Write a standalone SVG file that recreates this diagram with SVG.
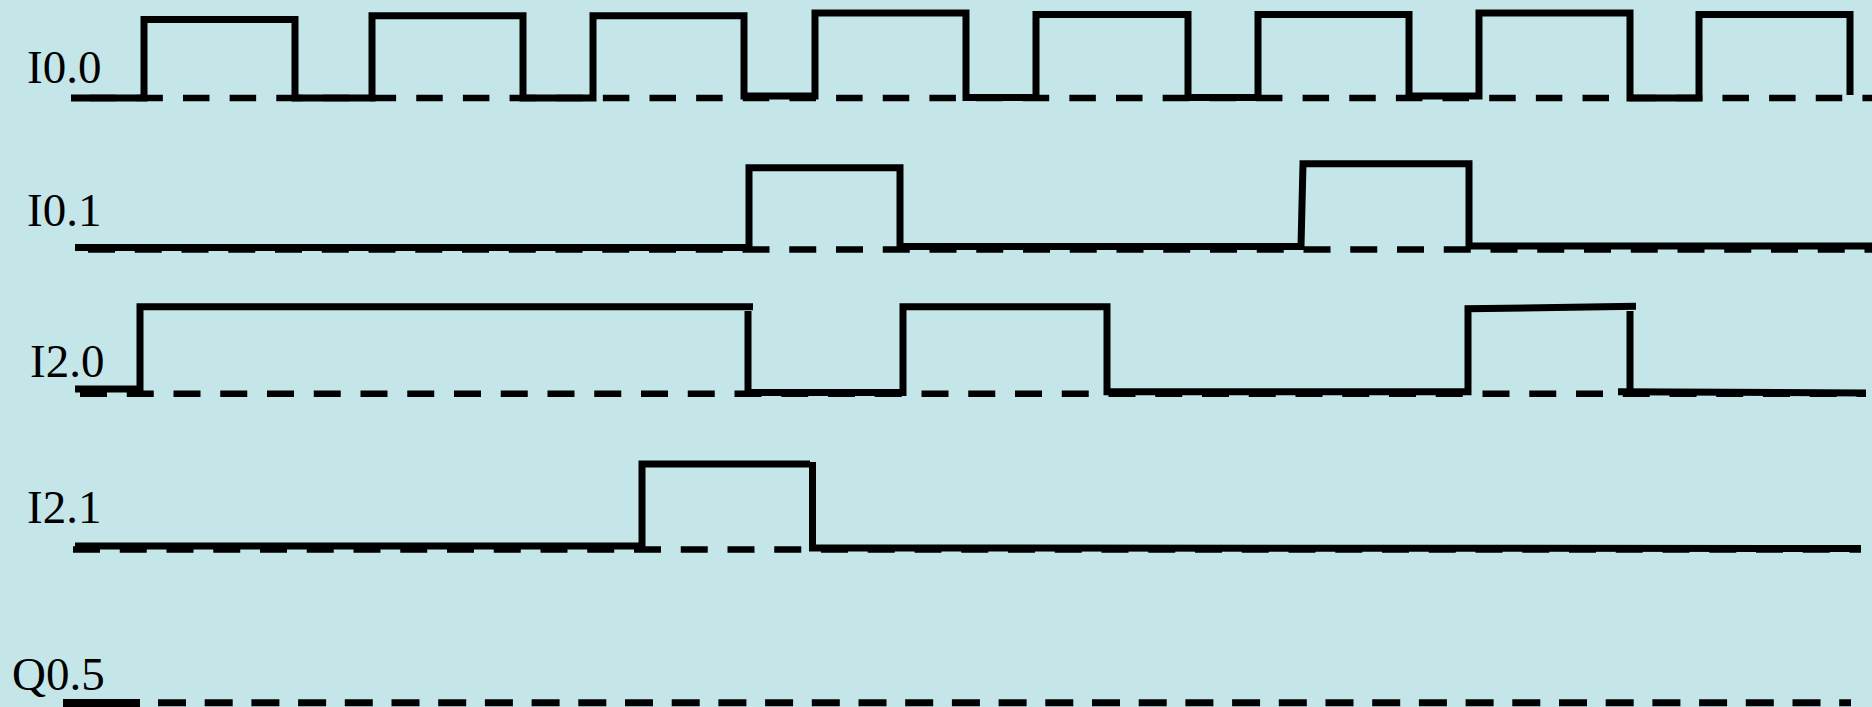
<svg xmlns="http://www.w3.org/2000/svg" width="1872" height="707" viewBox="0 0 1872 707">
<style>
.bg{fill:#C5E6E8}
.lbl{font-family:"Liberation Serif","Times New Roman",serif;font-size:47px;fill:#000}
.wave{fill:none;stroke:#000;stroke-width:7;stroke-linejoin:miter;stroke-linecap:butt}
.dash{fill:none;stroke:#000;stroke-width:6.5;stroke-dasharray:27 19.75}
</style>
<rect class="bg" x="0" y="0" width="1872" height="707"/>
<g id="I0.0">
<text class="lbl" x="27" y="83">I0.0</text>
<line class="dash" x1="89.7" y1="98" x2="1872" y2="98" style="stroke-dasharray:26.5 20.15"/>
<polyline class="wave" points="71,98 144,98 144,19.5 295,19.5 295,98 372,98 372,15.7 523,15.7 523,98 593,98 593,15.7 744,15.7 744,96 815,96 815,13 966,13 966,97.5 1036,97.5 1036,14.5 1188,14.5 1188,97.5 1258,97.5 1258,14.5 1409,14.5 1409,96 1479,96 1479,13 1630,13 1630,98 1699,98 1699,14.5 1850,14.5 1850,95"/>
</g>
<g id="I0.1">
<text class="lbl" x="27" y="226">I0.1</text>
<line class="dash" x1="88" y1="249.5" x2="1872" y2="249.5"/>
<polyline class="wave" points="75,247.5 749,247.5 749,167.8 900,167.8 900,246.5 1301,246.5 1303,163.7 1469,163.7 1469,246 1872,246"/>
</g>
<g id="I2.0">
<text class="lbl" x="30" y="377">I2.0</text>
<line class="dash" x1="80" y1="393.7" x2="1866" y2="393.7"/>
<polyline class="wave" points="75,389 140,389 140,306.7 753,306.7"/>
<polyline class="wave" points="748,311 748,392.5 903,392.5 903,306.7 1107,306.7 1107,391.7 1468,391.7 1468,308.8 1636,306.2"/>
<polyline class="wave" points="1630,311 1630,391.7"/>
<polyline class="wave" points="1618,391.7 1866,393"/>
</g>
<g id="I2.1">
<text class="lbl" x="27" y="523">I2.1</text>
<line class="dash" x1="73" y1="549.5" x2="1861" y2="549.5"/>
<polyline class="wave" points="75,546 642,546 642,464 810,464"/>
<polyline class="wave" points="812.5,462 812.5,548 1861,548.5"/>
</g>
<g id="Q0.5">
<text class="lbl" x="12" y="690">Q0.5</text>
<rect x="63" y="699" width="77" height="8" fill="#000"/>
<line class="dash" x1="158" y1="702.7" x2="1851" y2="702.7" style="stroke-width:7;stroke-dasharray:28 18.7"/>
</g>
</svg>
